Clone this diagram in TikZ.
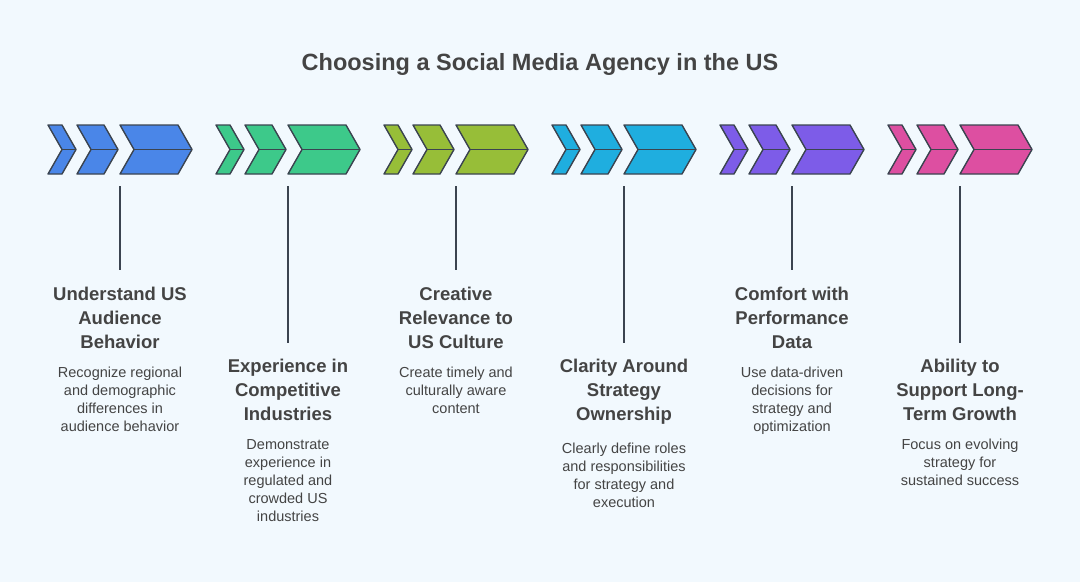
\documentclass[tikz,border=0pt]{standalone}
\usepackage{fontspec}
\setmainfont{Liberation Sans}
\definecolor{bg}{HTML}{F2F9FE}
\definecolor{ol}{HTML}{3B4450}
\definecolor{tx}{HTML}{444444}
\definecolor{cA}{HTML}{4A86E8}
\definecolor{cB}{HTML}{3DC98A}
\definecolor{cC}{HTML}{97BE38}
\definecolor{cD}{HTML}{1FAEDF}
\definecolor{cE}{HTML}{7D5CE8}
\definecolor{cF}{HTML}{DD4FA1}
\usetikzlibrary{positioning}
\tikzset{
 chev/.style={draw=ol,line width=1.4pt,line join=round},
 stem/.style={draw=ol,line width=1.4pt},
 ttl/.style={font=\bfseries\fontsize{18.5}{24}\selectfont,text=tx,align=center,anchor=north,inner sep=0},
 dsc/.style={font=\fontsize{14.5}{18}\selectfont,text=tx,align=center,anchor=north,inner sep=0}
}
\newcommand{\onechev}[3]{% left, width, color
 \fill[#3,chev] (#1,-125)--({#1+#2},-125)--({#1+#2+14},-149.5)--({#1+#2},-174)--(#1,-174)--({#1+14},-149.5)--cycle;
 \draw[chev] ({#1+14},-149.5)--({#1+#2+14},-149.5);}
\newcommand{\group}[7]{% name, x0, color, stemend, titley, title, desc
 \onechev{#2}{14}{#3}
 \onechev{#2+29}{27}{#3}
 \onechev{#2+72}{58}{#3}
 \coordinate (#1s) at ({#2+72},-186);
 \coordinate (#1e) at ({#2+72},-#4);
 \draw[stem] (#1s)--(#1e);
 \node[ttl] (#1t) at ({#2+72},-#5) {#6};
 \node[dsc,below=18pt of #1t.south,anchor=north] (#1d) {#7};}
\begin{document}
\begin{tikzpicture}[x=1pt,y=1pt]
\fill[bg] (0,0) rectangle (1080,-582);
\useasboundingbox (0,0) rectangle (1080,-582);
\node[font=\bfseries\fontsize{23.5}{28}\selectfont,text=tx] (title) at (540,-64) {Choosing a Social Media Agency in the US};
\group{a}{48}{cA}{270}{287}{Understand US\\Audience\\Behavior}{Recognize regional\\and demographic\\differences in\\audience behavior}
\group{b}{216}{cB}{343}{359}{Experience in\\Competitive\\Industries}{Demonstrate\\experience in\\regulated and\\crowded US\\industries}
\group{c}{384}{cC}{270}{287}{Creative\\Relevance to\\US Culture}{Create timely and\\culturally aware\\content}
\group{d}{552}{cD}{343}{359}{Clarity Around\\Strategy\\Ownership}{Clearly define roles\\and responsibilities\\for strategy and\\execution}
\group{e}{720}{cE}{270}{287}{Comfort with\\Performance\\Data}{Use data-driven\\decisions for\\strategy and\\optimization}
\group{f}{888}{cF}{343}{359}{Ability to\\Support Long-\\Term Growth}{Focus on evolving\\strategy for\\sustained success}
\end{tikzpicture}
\end{document}
